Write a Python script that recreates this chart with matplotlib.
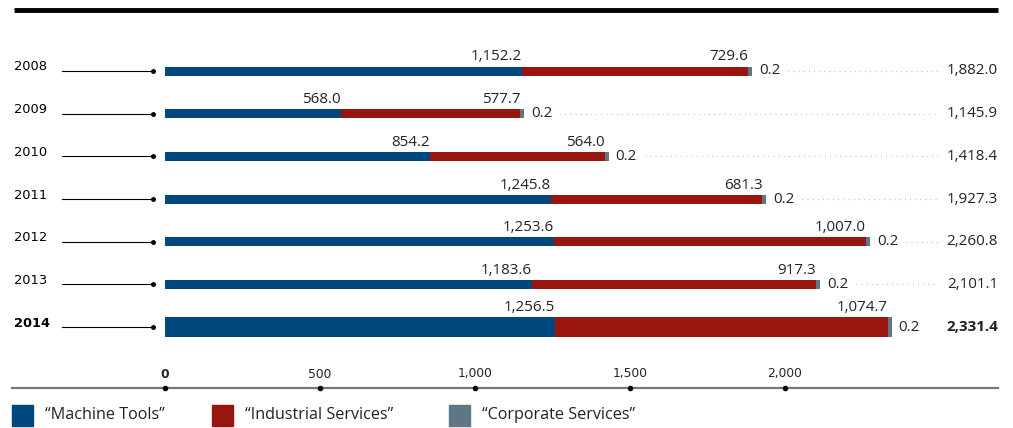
import matplotlib.pyplot as plt
from matplotlib.patches import Rectangle

# =Data
years = ['2008', '2009', '2010', '2011', '2012', '2013', '2014']
machine_tools = [1152.2, 568.0, 854.2, 1245.8, 1253.6, 1183.6, 1256.5]
industrial_services = [729.6, 577.7, 564.0, 681.3, 1007.0, 917.3, 1074.7]
corporate_services = [0.2, 0.2, 0.2, 0.2, 0.2, 0.2, 0.2]
totals = [1882.0, 1145.9, 1418.4, 1927.3, 2260.8, 2101.1, 2331.4]
ticks = [0, 500, 1000, 1500, 2000]
series_names = ['\u201cMachine Tools\u201d', '\u201cIndustrial Services\u201d', '\u201cCorporate Services\u201d']

BLUE = '#00477e'
RED = '#98160f'
GREY = '#5f7684'
TXT = '#222222'

plt.rcParams['font.family'] = ['Open Sans', 'DejaVu Sans']

W, H = 1013, 428
fig = plt.figure(figsize=(W / 100, H / 100), dpi=100)
ax = fig.add_axes([0, 0, 1, 1])
ax.set_axis_off()

# pixel scale: x=0 sits at px 165, 0.31 px per unit; rows 42.67 px apart from px 71
PX = 0.31
X0 = 165
ROW = 42.67
Y0 = 71
ax.set_xlim(-X0 / PX, (W - X0) / PX)
ax.set_ylim((H - Y0) / ROW, -Y0 / ROW)


def px2x(p):
    return (p - X0) / PX


def px2y(p):
    return (p - Y0) / ROW


# heavy rule along the top
ax.plot([px2x(14), px2x(998)], [px2y(10), px2y(10)], color='black', lw=3.5,
        solid_capstyle='butt')

n = len(years)
for i in range(n):
    last = i == n - 1
    h = 20 / ROW if last else 9 / ROW
    mt, ind, cs = machine_tools[i], industrial_services[i], corporate_services[i]
    # grey segment is drawn a few px wide so it stays visible
    cs_w = max(cs, 4 / PX)
    ax.barh(i, mt, height=h, color=BLUE, left=0)
    ax.barh(i, ind, height=h, color=RED, left=mt)
    ax.barh(i, cs_w, height=h, color=GREY, left=mt + ind)
    end = mt + ind + cs_w

    # year label and leader line
    ax.text(px2x(14), i - 4 / ROW, years[i], fontsize=9.4, color='black',
            family='DejaVu Sans', ha='left', va='center',
            fontweight='bold' if last else 'normal')
    ax.plot([px2x(62), px2x(153)], [i, i], color='black', lw=0.8)
    ax.plot([px2x(153)], [i], 'o', color='black', ms=2.5)

    top = i - h / 2 - 6 / ROW
    ax.text(mt, top, f'{mt:,.1f}', fontsize=10.9, color=TXT,
            ha='right', va='baseline')
    ax.text(mt + ind, top, f'{ind:,.1f}', fontsize=10.9, color=TXT,
            ha='right', va='baseline')
    ax.text(end + 7 / PX, i, f'{cs:,.1f}', fontsize=10.9, color=TXT,
            ha='left', va='center')
    ax.text(px2x(998), i, f'{totals[i]:,.1f}', fontsize=10.9, color=TXT,
            ha='right', va='center', fontweight='bold' if last else 'normal')
    if not last:
        ax.plot([end + 36 / PX, px2x(938)], [i, i], color='#aaaaaa', lw=0.9,
                linestyle=(0, (0.6, 3.5)))

# value axis along the bottom
ax.plot([px2x(12), px2x(998)], [px2y(388), px2y(388)], color='#777777', lw=1.6)
for t in ticks:
    ax.plot([t], [px2y(388)], 'o', color='black', ms=3)
    ax.text(t, px2y(374), f'{t:,}', fontsize=8.8, color=TXT, ha='center',
            va='center', family='DejaVu Sans',
            fontweight='bold' if t == 0 else 'normal')

# legend
for name, col, sx in zip(series_names, [BLUE, RED, GREY], [12, 212, 449]):
    ax.add_patch(Rectangle((px2x(sx), px2y(405)), 21 / PX, 21 / ROW,
                           color=col, clip_on=False))
    ax.text(px2x(sx + 33), px2y(415), name, fontsize=11.6, color=TXT,
            ha='left', va='center')

fig.savefig('out.png', dpi=100)
